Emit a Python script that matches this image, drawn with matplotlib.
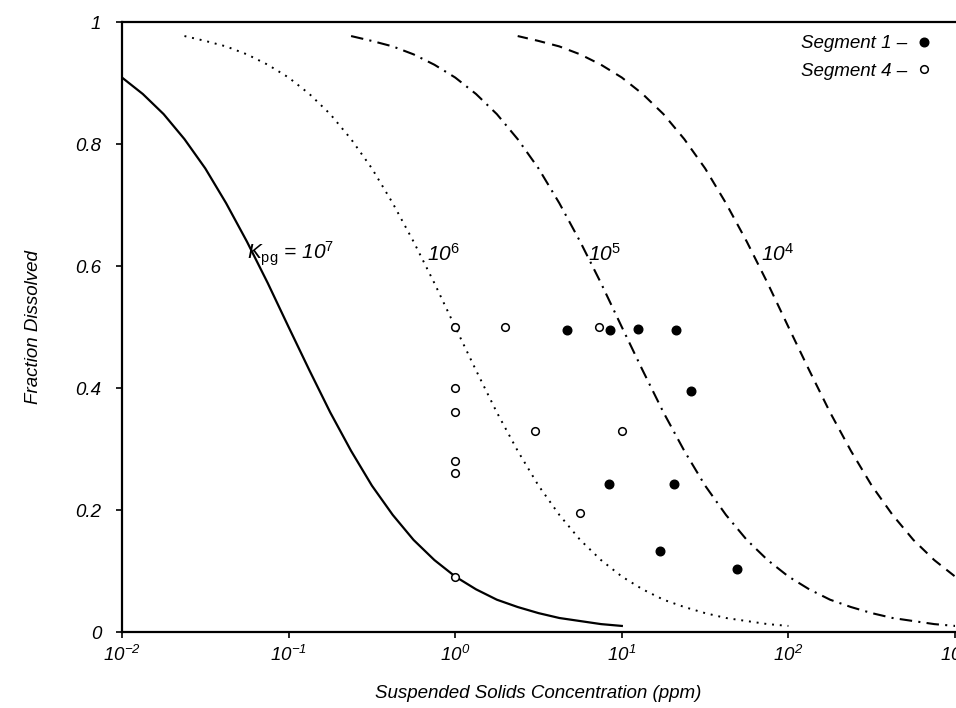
import numpy as np
import matplotlib
matplotlib.use('Agg')
import matplotlib.pyplot as plt
import matplotlib as mpl

mpl.rc('font', size=13, family='Liberation Sans', style='italic')
mpl.rc('mathtext', fontset='custom', rm='Liberation Sans:style=normal',
       it='Liberation Sans:style=italic', default='it')

# fraction dissolved curves (log10 of ppm, fraction)
logS_k7 = np.arange(-2.0, 1.0001, 0.125)
frac_k7 = [0.909, 0.882, 0.849, 0.808, 0.760, 0.703, 0.640, 0.572, 0.500, 0.429,
           0.360, 0.297, 0.240, 0.192, 0.151, 0.118, 0.091, 0.070, 0.053, 0.041,
           0.031, 0.023, 0.018, 0.013, 0.010]

logS_k6 = np.arange(-1.625, 2.0001, 0.125)
frac_k6 = [0.977, 0.969, 0.960, 0.947, 0.930, 0.909, 0.882, 0.849, 0.808, 0.760,
           0.703, 0.640, 0.572, 0.500, 0.429, 0.360, 0.297, 0.240, 0.192, 0.151,
           0.118, 0.091, 0.070, 0.053, 0.041, 0.031, 0.023, 0.018, 0.013, 0.010]

logS_k5 = np.arange(-0.625, 3.0001, 0.125)
frac_k5 = [0.977, 0.969, 0.960, 0.947, 0.930, 0.909, 0.882, 0.849, 0.808, 0.760,
           0.703, 0.640, 0.572, 0.500, 0.429, 0.360, 0.297, 0.240, 0.192, 0.151,
           0.118, 0.091, 0.070, 0.053, 0.041, 0.031, 0.023, 0.018, 0.013, 0.010]

logS_k4 = np.arange(0.375, 3.0001, 0.125)
frac_k4 = [0.977, 0.969, 0.960, 0.947, 0.930, 0.909, 0.882, 0.849, 0.808, 0.760,
           0.703, 0.640, 0.572, 0.500, 0.429, 0.360, 0.297, 0.240, 0.192, 0.151,
           0.118, 0.091]

# measured points
seg1_ppm = [4.7, 8.5, 12.5, 21, 26, 8.4, 20.5, 16.9, 49]
seg1_frac = [0.495, 0.495, 0.497, 0.495, 0.395, 0.242, 0.242, 0.133, 0.103]
seg4_ppm = [1, 2, 7.3, 1, 1, 3, 10, 1, 1, 5.6, 1]
seg4_frac = [0.50, 0.50, 0.50, 0.40, 0.36, 0.33, 0.33, 0.28, 0.26, 0.195, 0.09]

yticks = [0, 0.2, 0.4, 0.6, 0.8, 1]
ytick_labels = ['0', '0.2', '0.4', '0.6', '0.8', '1']

fig = plt.figure(figsize=(9.56, 7.08), dpi=100)
ax = fig.add_axes([0.1276, 0.1073, 0.8714, 0.8616])

ax.plot(10**logS_k7, frac_k7, color='k', lw=1.6, ls='-')
ax.plot(10**logS_k6, frac_k6, color='k', lw=1.4, ls=(0, (1, 3)))
ax.plot(10**logS_k5, frac_k5, color='k', lw=1.5, ls=(0, (6, 3, 1, 3)))
ax.plot(10**logS_k4, frac_k4, color='k', lw=1.5, ls=(0, (5, 3.5)))

ax.plot(seg1_ppm, seg1_frac, 'o', ms=6.2, mfc='k', mec='k', ls='none',
        label='Segment 1 \u2013')
ax.plot(seg4_ppm, seg4_frac, 'o', ms=5.5, mfc='white', mec='k', mew=1.1, ls='none',
        label='Segment 4 \u2013')

ax.text(0.056, 0.62, r'$K_{\mathrm{pg}}$ = 10$^7$', fontsize=15, va='center', ha='left')
ax.text(0.68, 0.62, r'10$^6$', fontsize=15, va='center', ha='left')
ax.text(6.3, 0.62, r'10$^5$', fontsize=15, va='center', ha='left')
ax.text(68, 0.62, r'10$^4$', fontsize=15, va='center', ha='left')

ax.legend(loc='upper right', bbox_to_anchor=(0.985, 1.0), frameon=False,
          markerfirst=False, handlelength=0.6, handletextpad=0.6,
          labelspacing=0.55, fontsize=13.5, borderaxespad=0.3)

ax.set_xscale('log')
ax.set_xlim(1e-2, 1e3)
ax.set_ylim(0, 1)
ax.set_yticks(yticks)
ax.set_yticklabels(ytick_labels)
ax.minorticks_off()
ax.tick_params(direction='out', length=4, width=1.2, labelsize=13.5)
ax.tick_params(axis='y', pad=11)
ax.tick_params(axis='x', pad=5)

for side in ['left', 'bottom', 'top']:
    ax.spines[side].set_linewidth(1.6)
ax.spines['right'].set_visible(False)

ax.set_xlabel('Suspended Solids Concentration (ppm)', fontsize=13.5, labelpad=15)
ax.set_ylabel('Fraction Dissolved', fontsize=13.5, labelpad=24)

plt.savefig('out.png', dpi=100)
